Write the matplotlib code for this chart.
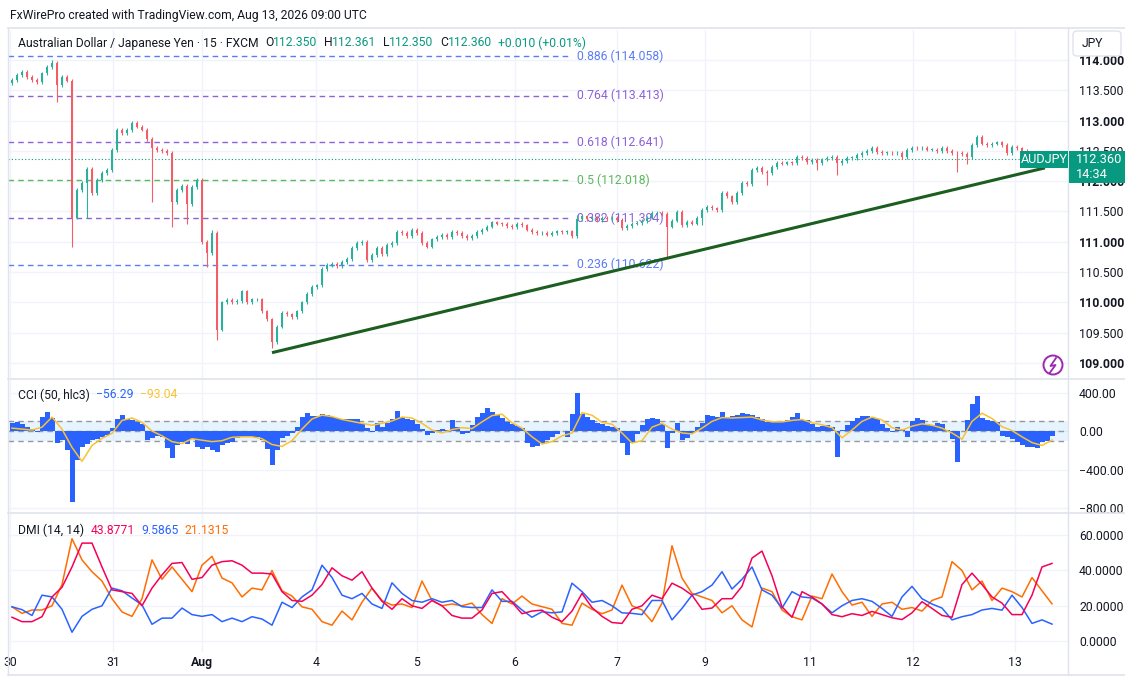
import matplotlib
matplotlib.use("Agg")
import matplotlib.pyplot as plt
from matplotlib.patches import Rectangle, FancyBboxPatch, Circle

plt.rcParams['font.family'] = ['Roboto', 'DejaVu Sans']

# ---------------- data ----------------
first_open = 113.62
closes = [
    113.67, 113.75, 113.80, 113.72, 113.67, 113.64, 113.78, 113.88, 113.95, 113.58,
    113.72, 113.66, 111.40, 111.85, 111.97, 112.20, 111.80, 112.02, 112.13, 112.18,
    112.51, 112.84, 112.79, 112.84, 112.96, 112.90, 112.85, 112.70, 112.55, 112.51,
    112.50, 112.46, 111.65, 111.85, 111.92, 111.62, 111.90, 112.02, 111.00, 110.82,
    111.15, 109.55, 110.00, 110.04, 110.00, 110.02, 110.18, 110.00, 110.05, 110.05,
    109.85, 109.72, 109.35, 109.60, 109.82, 109.80, 109.76, 109.85, 110.00, 110.14,
    110.25, 110.28, 110.55, 110.62, 110.64, 110.60, 110.67, 110.72, 110.90, 110.98,
    111.00, 110.70, 110.78, 110.90, 110.80, 110.95, 110.98, 111.16, 111.14, 111.10,
    111.19, 111.14, 110.98, 110.92, 111.04, 111.08, 111.11, 111.08, 111.16, 111.14,
    111.10, 111.06, 111.10, 111.16, 111.20, 111.25, 111.32, 111.30, 111.29, 111.26,
    111.24, 111.30, 111.27, 111.20, 111.16, 111.14, 111.15, 111.12, 111.15, 111.17,
    111.16, 111.17, 111.10, 111.38, 111.42, 111.38, 111.40, 111.36, 111.39, 111.38,
    111.40, 111.36, 111.23, 111.26, 111.30, 111.31, 111.34, 111.40, 111.47, 111.48,
    111.46, 111.25, 111.35, 111.49, 111.28, 111.33, 111.30, 111.40, 111.52, 111.57,
    111.55, 111.52, 111.81, 111.75, 111.66, 111.81, 111.97, 111.95, 112.18, 112.22,
    112.15, 112.14, 112.23, 112.30, 112.29, 112.31, 112.30, 112.40, 112.38, 112.32,
    112.35, 112.30, 112.36, 112.38, 112.40, 112.30, 112.33, 112.38, 112.38, 112.43,
    112.46, 112.50, 112.55, 112.48, 112.47, 112.47, 112.46, 112.47, 112.40, 112.51,
    112.55, 112.54, 112.55, 112.52, 112.52, 112.50, 112.55, 112.50, 112.47, 112.46,
    112.45, 112.40, 112.60, 112.73, 112.62, 112.60, 112.62, 112.64, 112.60, 112.46,
    112.56, 112.54, 112.50, 112.45, 112.40, 112.38, 112.36, 112.35, 112.36,
]
low_spikes = {9: 113.31, 12: 110.92, 15: 111.39, 28: 111.66, 32: 111.25, 35: 111.30,
              39: 110.58, 41: 109.38, 52: 109.25, 131: 110.75, 138: 111.28,
              151: 111.93, 161: 112.19, 165: 112.10, 189: 112.15, 191: 112.28}
high_spikes = {8: 114.00, 40: 111.20, 113: 111.45, 193: 112.77}
last_ohlc = [112.350, 112.361, 112.350, 112.360]
last_change = "+0.010 (+0.01%)"

fib_levels = [0.886, 0.764, 0.618, 0.5, 0.382, 0.236]
fib_prices = [114.058, 113.413, 112.641, 112.018, 111.394, 110.622]

trend_bars = [52, 206.6]
trend_prices = [109.17, 112.22]
last_price = 112.360

cci_values = [
    83, 90, 70, 45, 25, -5, 145, 200, 135, -120,
    -95, -200, -740, -300, -170, -130, -95, -80, -65, -40,
    30, 120, 165, 130, 110, 95, 75, -90, -70, -50,
    -60, -180, -280, -150, -110, -130, -80, -170, -185, -165,
    -200, -215, -145, -125, -110, -75, -65, -60, -60, -65,
    -90, -190, -350, -200, -75, -50, -20, 40, 145, 190,
    160, 155, 180, 170, 150, 135, 120, 120, 130, 125,
    80, 30, -10, 80, 45, 85, 130, 210, 145, 130,
    110, 70, 20, -40, -20, 15, 25, 10, 115, 40,
    -30, -25, 60, 150, 185, 235, 200, 165, 140, 95,
    75, 55, 30, -120, -165, -160, -125, -95, -65, -30,
    0, -60, 180, 390, 180, 145, 110, 85, 70, 55,
    45, 30, -125, -250, -120, -30, 60, 125, 140, 130,
    70, -175, -20, 80, -95, -70, -20, 45, 80, 165,
    155, 150, 195, 145, 155, 165, 185, 175, 165, 145,
    120, 95, 95, 95, 105, 115, 150, 185, 115, 115,
    75, 40, 55, 60, 40, -270, 10, 60, 100, 140,
    160, 155, 140, 120, 75, 30, -5, 45, 20, -60,
    100, 140, 110, 75, 60, 85, 70, 10, -80, -320,
    0, 110, 280, 360, 140, 115, 105, 90, -50, -60,
    -80, -110, -140, -165, -170, -175, -115, -100, -56,
]
# smoothing line, sampled every 2 bars
cci_ma = [
    30, 20, 10, 40, 145, 20, -170, -315, -150, -75,
    -25, 110, 135, 90, 0, -50, -110, -130, -80, -95,
    -110, -100, -65, -60, -60, -80, -140, -160, -100, 20,
    125, 165, 150, 120, 100, 80, 60, 80, 105, 145,
    135, 80, 10, -20, 15, 35, 25, 95, 160, 175,
    85, 30, -60, -135, -110, -50, -20, 190, 165, 90,
    70, -20, -125, -100, 40, 80, 20, -20, -30, 30,
    100, 140, 135, 140, 145, 115, 95, 95, 110, 120,
    85, 65, 35, -70, 10, 100, 145, 115, 35, 10,
    50, 75, 60, 30, -20, -85, 100, 185, 130, 45,
    5, -60, -120, -150, -93,
]
cci_last = "\u221256.29"
cci_ma_last = "\u221293.04"

# DMI lines, sampled every 2 bars
adx = [
    13.5, 11, 11, 13.8, 25, 30.5, 42, 55.5, 55.5, 42,
    29, 28, 27, 20, 30, 37.5, 44, 44.5, 35, 36,
    43, 45, 45.5, 43, 38.5, 38.5, 38, 28, 23, 22.5,
    26, 32, 41.5, 37, 34.5, 39.3, 30, 22.5, 18, 24,
    20, 18.5, 23, 20, 14.5, 13, 13, 17.6, 27, 28,
    22, 15.5, 17, 17.5, 13.5, 11, 17, 27, 19, 14,
    10.5, 10, 18, 20, 26, 24, 32.8, 30, 26, 18,
    18.7, 24, 24, 31, 47, 51, 37, 19.4, 13.5, 28,
    25, 21, 15, 13.8, 15.5, 14.5, 16.8, 15, 13.2, 12.2,
    16, 22.3, 18.5, 14.5, 13.5, 32, 38.5, 32, 25, 21.5,
    15, 15, 26, 42, 44,
]
plus_di = [
    19.4, 17.8, 14.5, 26, 25, 18, 5, 14, 18, 20,
    30, 28.5, 24.4, 20.5, 9.5, 13, 13, 18.7, 15, 14,
    15, 11, 13, 11, 13.8, 12.5, 9, 22, 19, 25,
    29, 43, 36, 26, 24, 27, 21, 18.5, 33, 27,
    23, 22, 24, 22, 23, 19.5, 19, 19, 29, 22.5,
    22.5, 17.6, 13.5, 16.6, 16, 16.5, 32.8, 28, 22, 23,
    20, 16, 15.7, 15, 23, 23, 12, 18.5, 26, 28,
    31.7, 39.3, 29.5, 35, 42, 29, 26, 18.7, 28, 25,
    24.4, 21, 16, 20, 23, 24, 22.5, 18.5, 14, 25,
    31, 24, 21, 18.7, 12, 13.8, 15, 17.6, 18.5, 17.5,
    26, 19, 10, 12, 9.6,
]
minus_di = [
    19.4, 15.7, 17.6, 17.6, 20, 32, 58, 46, 39.3, 34,
    24, 16.5, 14, 24, 46, 35, 42, 35, 28, 43,
    48, 35.7, 33, 25, 30, 29, 40, 28.5, 25.5, 19.4,
    18, 11, 9, 17, 12, 22, 30, 23, 20.4, 21,
    19, 34, 23, 20, 21, 20, 21.5, 15, 10, 24,
    21, 25.5, 21, 19.5, 18, 10, 9, 21.5, 18, 15.5,
    17.6, 31.7, 20, 17.6, 11, 21.5, 54, 35.7, 27, 25,
    23, 16, 20, 12, 8, 30, 28, 17.6, 13.8, 12,
    25.5, 24, 38, 28, 20.4, 22, 14, 21, 22, 18,
    19, 17, 23, 25, 45, 40, 29, 34, 23, 30,
    28, 25, 36, 28.5, 21.1,
]
adx_last, plus_last, minus_last = "43.8771", "9.5865", "21.1315"

day_labels = ['30', '31', 'Aug', '4', '5', '6', '7', '9', '11', '12', '13']
day_ticks = [-0.4, 20.2, 38, 60.8, 81, 100.6, 121, 138.6, 159.6, 180.2, 200.6]
price_ticks = [109.0, 109.5, 110.0, 110.5, 111.0, 111.5, 112.0, 112.5, 113.0, 113.5, 114.0]
cci_ticks = [400, 0, -400, -800]
dmi_ticks = [60, 40, 20, 0]

# ---------------- styling ----------------
W, H = 1125, 686
TXT = '#131722'
GRID = '#f0f3fa'
TEAL = '#089981'
UP, DOWN = '#2bb09c', '#f45c68'
FS_TICK = 8.8
FS_LEG = 8.7
FS_FIB = 8.8

fig = plt.figure(figsize=(W / 100, H / 100), dpi=100)
fig.patch.set_facecolor('white')


def rect(l, t, r, b):
    return [l / W, 1 - b / H, (r - l) / W, (b - t) / H]


ax1 = fig.add_axes(rect(8, 30, 1068, 378))
ax2 = fig.add_axes(rect(8, 380, 1068, 512))
ax3 = fig.add_axes(rect(8, 514, 1068, 652))

n = len(closes)
idx = list(range(n))
idx2 = idx[::2]
XMIN, XMAX = -0.8, 211.2

for ax in (ax1, ax2, ax3):
    ax.set_xlim(XMIN, XMAX)
    for s in ax.spines.values():
        s.set_visible(False)
    ax.yaxis.tick_right()
    ax.tick_params(axis='y', length=0, pad=8, labelsize=FS_TICK, labelcolor=TXT)
    ax.tick_params(axis='x', length=0)
    ax.set_facecolor('none')
    for t in day_ticks:
        ax.axvline(t, color=GRID, lw=1, zorder=0)

# ---- price pane ----
ax1.set_ylim(108.752, 114.495)
ax1.set_xticks([])
ax1.set_yticks(price_ticks)
ax1.set_yticklabels([f"{p:.3f}" for p in price_ticks])
for p, lab in zip(price_ticks, ax1.get_yticklabels()):
    if float(p).is_integer():
        lab.set_fontweight('bold')
for p in price_ticks:
    ax1.axhline(p, color=GRID, lw=1, zorder=0)

opens = [first_open] + closes[:-1]
WICK = 0.03
highs, lows, cols, bottoms, heights = [], [], [], [], []
for i, (o, c) in enumerate(zip(opens, closes)):
    hi = high_spikes.get(i, max(o, c) + WICK)
    lo = low_spikes.get(i, min(o, c) - WICK)
    highs.append(hi)
    lows.append(lo)
    cols.append(UP if c >= o else DOWN)
    bottoms.append(min(o, c))
    heights.append(max(abs(c - o), 0.012))
ax1.vlines(idx, lows, highs, colors=cols, lw=0.8, zorder=3)
ax1.bar(idx, heights, bottom=bottoms, width=0.5, color=cols, lw=0, zorder=3)

fib_colors = {0.886: '#5b7cf7', 0.764: '#8c62d9', 0.618: '#8c62d9',
              0.5: '#5cb85c', 0.382: '#8c62d9', 0.236: '#5b7cf7'}
for lvl, p in zip(fib_levels, fib_prices):
    c = fib_colors[lvl]
    ax1.hlines(p, XMIN, 111.6, colors=c, linestyles=(0, (4, 3)), lw=1, zorder=2)
    ax1.text(113, p, f"{lvl:g} ({p:.3f})", color=c, fontsize=FS_FIB, va='center',
             ha='left', zorder=2)

ax1.axhline(last_price, color=TEAL, lw=0.8, ls=(0, (1, 2)), zorder=2)
ax1.plot(trend_bars, trend_prices, color='#1b5e20', lw=2.2, zorder=4,
         solid_capstyle='butt')

# ---- CCI pane ----
ax2.set_ylim(-841, 530)
ax2.set_xticks([])
ax2.set_yticks(cci_ticks)
ax2.set_yticklabels([f"{v:.2f}".replace('-', '\u2212') for v in cci_ticks])
for v in cci_ticks:
    ax2.axhline(v, color=GRID, lw=1, zorder=0)
ax2.axhspan(-100, 100, color='#2196f3', alpha=0.1, lw=0, zorder=1)
for v in (100, 0, -100):
    ax2.axhline(v, color='#9598a1', lw=1, ls=(0, (4, 3)), zorder=1.5)
ax2.bar(idx, cci_values, width=1.0, color='#2962ff', lw=0, zorder=2)
ax2.plot(idx2, cci_ma, color='#f9c22e', lw=1.1, zorder=3)

# ---- DMI pane ----
ax3.set_ylim(-6.2, 72)
ax3.set_yticks(dmi_ticks)
ax3.set_yticklabels([f"{v:.4f}" for v in dmi_ticks])
for v in dmi_ticks:
    ax3.axhline(v, color=GRID, lw=1, zorder=0)
ax3.plot(idx2, minus_di, color='#ff6d00', lw=1.1, zorder=3)
ax3.plot(idx2, plus_di, color='#2962ff', lw=1.1, zorder=3)
ax3.plot(idx2, adx, color='#f50057', lw=1.1, zorder=4)
ax3.set_xticks(day_ticks)
ax3.set_xticklabels(day_labels)
ax3.tick_params(axis='x', labelsize=FS_TICK, labelcolor=TXT, pad=3)
for lab in ax3.get_xticklabels():
    if lab.get_text() == 'Aug':
        lab.set_fontweight('bold')

# ---- overlay for texts ----
axo = fig.add_axes([0, 0, 1, 1], zorder=10)
axo.set_xlim(0, W)
axo.set_ylim(H, 0)
axo.axis('off')

lc = '#e0e3eb'
for y in (28, 378.5, 512.5, 675):
    axo.plot([8, 1125], [y, y], color=lc, lw=1.2, zorder=1)
axo.plot([8, 8], [28, 675], color=lc, lw=1, zorder=1)
axo.plot([1068, 1068], [28, 675], color=lc, lw=1, zorder=1)


def chain(x_px, y_px, parts, size=FS_LEG):
    t = axo.text(x_px, y_px, parts[0][0], color=parts[0][1],
                 fontsize=size, va='center', ha='left', zorder=5)
    for s, c, gap in parts[1:]:
        t = axo.annotate(s, xy=(1, 0.5), xycoords=t, xytext=(gap, 0),
                         textcoords='offset points', va='center', ha='left',
                         color=c, fontsize=size, annotation_clip=False, zorder=5)
    return t


axo.text(10, 15, "FxWirePro created with TradingView.com, Aug 13, 2026 09:00 UTC",
         color=TXT, fontsize=FS_LEG, va='center', ha='left')

o_, h_, l_, c_ = last_ohlc
chain(18, 43, [
    ("Australian Dollar / Japanese Yen \u00b7 15 \u00b7 FXCM", TXT),
    ("O", TXT, 4.5), (f"{o_:.3f}", TEAL, 0),
    ("H", TXT, 4.5), (f"{h_:.3f}", TEAL, 0),
    ("L", TXT, 4.5), (f"{l_:.3f}", TEAL, 0),
    ("C", TXT, 4.5), (f"{c_:.3f}", TEAL, 0),
    (last_change, TEAL, 4.5),
])
chain(18, 395, [("CCI (50, hlc3)", TXT), (cci_last, '#2962ff', 4.5),
                (cci_ma_last, '#f9c22e', 4.5)])
chain(18, 530, [("DMI (14, 14)", TXT), (adx_last, '#f50057', 4.5),
                (plus_last, '#2962ff', 4.5), (minus_last, '#ff6d00', 4.5)])

# JPY button
axo.add_patch(FancyBboxPatch((1073, 31), 48, 25,
                             boxstyle="round,pad=0,rounding_size=4",
                             fc='white', ec=lc, lw=1, zorder=3))
axo.text(1082, 43.5, "JPY", color=TXT, fontsize=FS_LEG, va='center', ha='left', zorder=4)

# symbol + price labels
axo.add_patch(Rectangle((1020, 151), 48, 17, fc=TEAL, ec='none', zorder=3))
axo.text(1044, 159.5, "AUDJPY", color='white', fontsize=FS_LEG + 0.4, va='center',
         ha='center', zorder=4)
axo.add_patch(Rectangle((1069, 151), 56, 32, fc=TEAL, ec='none', zorder=3))
axo.text(1076, 159.5, f"{last_price:.3f}", color='white', fontsize=FS_TICK + 0.4,
         va='center', ha='left', zorder=4)
axo.text(1076, 174, "14:34", color='white', fontsize=FS_TICK + 0.4, va='center',
         ha='left', zorder=4)

# lightning icon
axo.add_patch(Circle((1053, 365), 9.5, fc='white', ec='#9c27b0', lw=1.4, zorder=3))
bolt_x = [1056, 1050.5, 1055.5, 1050]
bolt_y = [358, 366, 365, 372.5]
axo.plot(bolt_x, bolt_y, color='#9c27b0', lw=1.3, zorder=4)

fig.savefig("out.png", dpi=100, facecolor='white')
